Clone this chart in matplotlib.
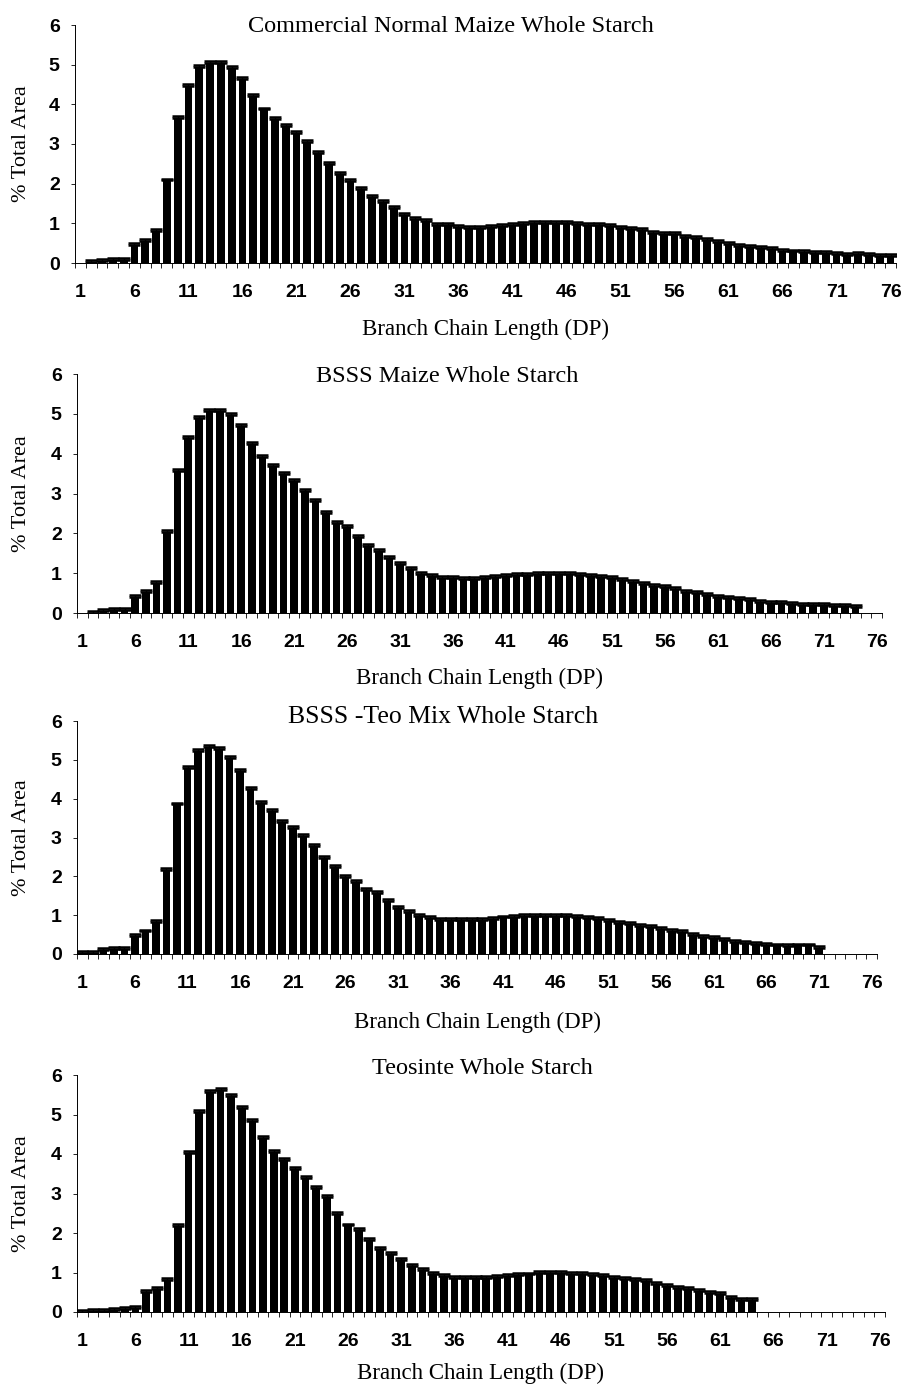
import numpy as np
import matplotlib
matplotlib.use("Agg")
import matplotlib.pyplot as plt
from matplotlib.ticker import FixedLocator

# branch chain length (degree of polymerisation) categories
dp = np.arange(1, 77)
tick_dp = [1, 6, 11, 16, 21, 26, 31, 36, 41, 46, 51, 56, 61, 66, 71, 76]

# % total area per DP, one list per starch
commercial = [0.00, 0.02, 0.05, 0.08, 0.08, 0.45, 0.55, 0.80, 2.08, 3.65,
              4.47, 4.93, 5.05, 5.05, 4.92, 4.63, 4.22, 3.87, 3.64, 3.46,
              3.28, 3.04, 2.77, 2.50, 2.25, 2.07, 1.87, 1.67, 1.55, 1.38,
              1.22, 1.12, 1.05, 0.97, 0.95, 0.90, 0.88, 0.88, 0.90, 0.93,
              0.97, 0.98, 1.00, 1.01, 1.01, 1.01, 0.99, 0.97, 0.96, 0.93,
              0.88, 0.85, 0.82, 0.76, 0.73, 0.72, 0.66, 0.63, 0.57, 0.53,
              0.47, 0.44, 0.41, 0.37, 0.35, 0.31, 0.29, 0.27, 0.26, 0.24,
              0.23, 0.20, 0.22, 0.20, 0.18, 0.17]

bsss = [0.00, 0.01, 0.04, 0.08, 0.08, 0.40, 0.53, 0.76, 2.03, 3.57,
        4.40, 4.89, 5.08, 5.08, 4.96, 4.69, 4.24, 3.91, 3.69, 3.49,
        3.32, 3.06, 2.80, 2.52, 2.27, 2.15, 1.92, 1.68, 1.56, 1.38,
        1.22, 1.10, 0.99, 0.93, 0.89, 0.87, 0.85, 0.86, 0.88, 0.91,
        0.93, 0.95, 0.96, 0.98, 0.99, 0.99, 0.99, 0.95, 0.93, 0.90,
        0.87, 0.83, 0.78, 0.73, 0.68, 0.66, 0.60, 0.53, 0.49, 0.44,
        0.40, 0.37, 0.35, 0.32, 0.28, 0.26, 0.25, 0.22, 0.21, 0.19,
        0.19, 0.18, 0.17, 0.16, 0.00, 0.00]

teo_mix = [0.02, 0.03, 0.10, 0.13, 0.12, 0.47, 0.58, 0.82, 2.17, 3.85,
           4.78, 5.22, 5.32, 5.27, 5.05, 4.71, 4.24, 3.88, 3.68, 3.41,
           3.24, 3.04, 2.77, 2.48, 2.23, 1.99, 1.86, 1.65, 1.57, 1.36,
           1.19, 1.08, 0.99, 0.93, 0.88, 0.87, 0.87, 0.87, 0.88, 0.91,
           0.94, 0.96, 0.97, 0.98, 0.99, 0.99, 0.99, 0.95, 0.92, 0.89,
           0.86, 0.80, 0.78, 0.73, 0.70, 0.65, 0.59, 0.56, 0.50, 0.44,
           0.41, 0.36, 0.30, 0.28, 0.26, 0.24, 0.22, 0.21, 0.22, 0.22,
           0.15, 0.00, 0.00, 0.00, 0.00, 0.00]

teosinte = [0.01, 0.02, 0.03, 0.06, 0.08, 0.09, 0.50, 0.59, 0.82, 2.18,
            4.03, 5.07, 5.58, 5.62, 5.47, 5.16, 4.84, 4.40, 4.04, 3.85,
            3.63, 3.40, 3.14, 2.92, 2.49, 2.19, 2.07, 1.83, 1.59, 1.48,
            1.31, 1.16, 1.06, 0.96, 0.90, 0.86, 0.85, 0.86, 0.87, 0.89,
            0.91, 0.93, 0.95, 0.98, 1.00, 1.00, 0.97, 0.96, 0.93, 0.91,
            0.87, 0.84, 0.80, 0.78, 0.70, 0.66, 0.62, 0.58, 0.52, 0.48,
            0.46, 0.36, 0.31, 0.30, 0.00, 0.00, 0.00, 0.00, 0.00, 0.00,
            0.00, 0.00, 0.00, 0.00, 0.00, 0.00]

titles = ["Commercial Normal Maize Whole Starch",
          "BSSS Maize Whole Starch",
          "BSSS -Teo Mix Whole Starch",
          "Teosinte Whole Starch"]
series = [commercial, bsss, teo_mix, teosinte]
ERR = 0.05  # upper error cap above each bar

W, H = 902, 1385
# axes boxes in pixels: left, right, top (y=6), bottom (y=0)
boxes = [(75, 896, 25, 263), (77, 882, 374, 613),
         (77, 877, 721, 954), (77, 885, 1075, 1312)]
title_pos = [(451, 27, 17.5), (447, 377, 17.5), (443, 717, 18.5), (482, 1069, 17.5)]
xlabel_y = [329, 678, 1022, 1373]

SERIF = "Liberation Serif"
SANS = "Liberation Sans"

fig = plt.figure(figsize=(W / 100, H / 100), dpi=100)

for i, vals in enumerate(series):
    l, r, t, b = boxes[i]
    ax = fig.add_axes([l / W, 1 - b / H, (r - l) / W, (b - t) / H])
    vals = np.asarray(vals)
    ax.bar(dp, vals, width=0.72, color="black", linewidth=0)
    nz = vals > 0
    ax.errorbar(dp[nz], vals[nz], yerr=[np.zeros(nz.sum()), np.full(nz.sum(), ERR)],
                fmt="none", ecolor="black", elinewidth=1, capsize=4.6, capthick=1.8)

    ax.set_xlim(0.5, 76.5)
    ax.set_ylim(0, 6)
    ax.set_yticks(range(0, 7))
    ax.set_xticks(tick_dp)
    ax.xaxis.set_minor_locator(FixedLocator(np.arange(0.5, 77, 1)))
    ax.tick_params(axis="x", which="major", length=0, pad=15)
    ax.tick_params(axis="x", which="minor", length=3.5, width=0.6, direction="out")
    ax.tick_params(axis="y", length=3, width=0.6, pad=8)
    for lab in ax.get_xticklabels() + ax.get_yticklabels():
        lab.set_fontfamily(SANS)
        lab.set_fontweight("bold")
        lab.set_fontsize(14)
    for side in ("top", "right"):
        ax.spines[side].set_visible(False)
    for side in ("left", "bottom"):
        ax.spines[side].set_linewidth(0.7)

    tx, ty, tsize = title_pos[i]
    fig.text(tx / W, 1 - ty / H, titles[i], family=SERIF, fontsize=tsize,
             ha="center", va="center")
    fig.text((l + r) / 2 / W, 1 - xlabel_y[i] / H, "Branch Chain Length (DP)",
             family=SERIF, fontsize=16.5, ha="center", va="center")
    fig.text(22 / W, 1 - (t + b) / 2 / H, "% Total Area", family=SERIF,
             fontsize=16, rotation=90, ha="center", va="center")

fig.savefig("out.png", dpi=100)
